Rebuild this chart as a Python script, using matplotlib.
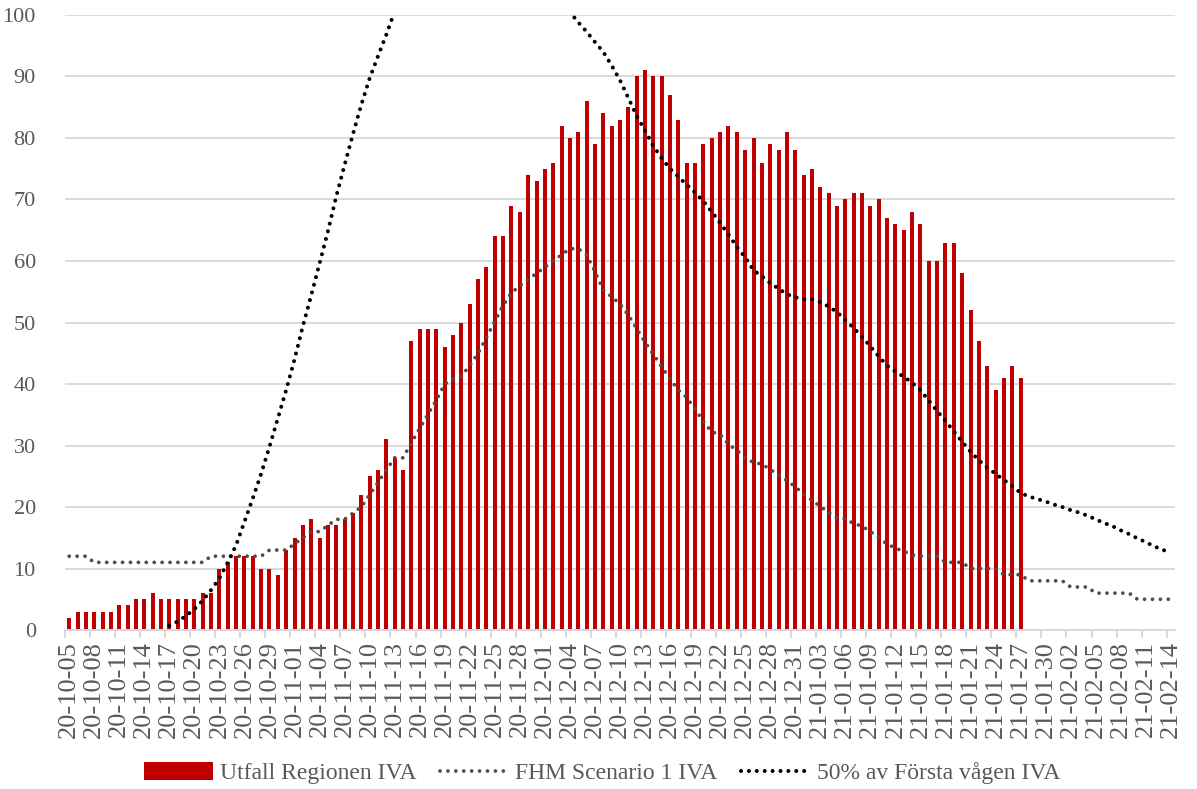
import matplotlib
matplotlib.use("Agg")
import matplotlib.pyplot as plt
import numpy as np
import pandas as pd

plt.rcParams["font.family"] = ["Liberation Serif", "DejaVu Serif"]

# dagar 20-10-05 .. 21-02-14
dates = pd.date_range("2020-10-05", "2021-02-14", freq="D")
date_labels = [d.strftime("%y-%m-%d") for d in dates]

# Utfall Regionen IVA (20-10-05 .. 21-01-27)
utfall = [
    2, 3, 3, 3, 3, 3, 4, 4, 5, 5, 6, 5, 5, 5, 5, 5, 6, 6,
    10, 11, 12, 12, 12, 10, 10, 9, 13, 15, 17, 18, 15, 17, 17, 18, 19, 22, 25, 26, 31, 28, 26,
    47, 49, 49, 49, 46, 48, 50, 53, 57, 59, 64, 64, 69, 68, 74, 73, 75, 76, 82, 80, 81, 86, 79,
    84, 82, 83, 85, 90, 91, 90, 90, 87, 83, 76, 76, 79, 80, 81, 82, 81,
    78, 80, 76, 79, 78, 81, 78, 74, 75, 72, 71, 69, 70, 71, 71, 69, 70, 67, 66,
    65, 68, 66, 60, 60, 63, 63, 58, 52, 47, 43, 39, 41, 43, 41,
]

# FHM Scenario 1 IVA
fhm = [
    12, 12, 12, 11, 11, 11, 11, 11, 11, 11,
    11, 11, 11, 11, 11, 11, 11, 12, 12, 12,
    12, 12, 12, 12, 13, 13, 13, 14, 15, 16,
    16, 17, 18, 18, 19, 20, 22, 24, 26, 28,
    28, 30.4, 32.8, 35.1, 37.4, 40, 40.8, 41.3, 43, 45,
    47.6, 50.2, 52.8, 54.8, 56, 57, 58, 59, 60, 61,
    62, 62, 61, 58.3, 55.3, 54.2, 53, 51.2, 49, 46.8,
    44.8, 42.8, 40.8, 39, 37.8, 35.9, 33.9, 32.2, 31.8, 30.2,
    29.2, 28.1, 27.2, 27, 26.1, 25.2, 24.3, 23.3, 22.1, 21.1,
    20.1, 19.1, 18.2, 18.1, 17.3, 16.9, 16, 15, 14, 13.3,
    12.8, 12.2, 12, 12, 12, 11, 11, 11, 10, 10,
    10, 10, 9, 9, 9, 8, 8, 8, 8, 8,
    7, 7, 7, 6, 6, 6, 6, 6, 5, 5,
    5, 5, 5,
]

# 50% av Första vågen IVA (värden över 100 syns inte i bilden, uppskattade)
forsta = [
    np.nan, np.nan, np.nan, np.nan, np.nan, np.nan, np.nan, np.nan, np.nan, np.nan,
    np.nan, np.nan, 0.7, 1.4, 2.3, 3.4, 4.8, 6.5, 8.4, 11.0,
    13.8, 17.6, 21.4, 25.4, 29.8, 34.4, 39.0, 44.0, 49.4, 54.4,
    59.6, 64.8, 70.5, 75.6, 80.6, 85.4, 89.7, 93.3, 96.8, 100.6,
    104, 107, 109.5, 111.5, 113, 114, 114.5, 114.5, 114, 113.5,
    113, 112, 111, 110, 109, 108, 107, 105.5, 104, 102.2,
    100.5, 98.8, 97.3, 95.6, 94.0, 91.8, 89.4, 86.5, 83.6, 81.2,
    78.7, 76.7, 75.0, 73.7, 72.4, 71.1, 69.7, 68.0, 66.2, 64.3,
    62.3, 60.6, 58.5, 57.5, 56.4, 55.5, 54.6, 54.1, 53.8, 53.8,
    53.3, 52.6, 51.7, 50.4, 49.1, 47.7, 46.1, 44.5, 43.0, 42.0,
    41.2, 40.2, 39.0, 37.3, 35.6, 34.0, 32.3, 30.6, 29.0, 27.6,
    26.4, 25.4, 24.4, 23.4, 22.3, 21.7, 21.3, 20.9, 20.4, 20.0,
    19.5, 19.1, 18.6, 18.0, 17.4, 16.9, 16.2, 15.6, 14.9, 14.3,
    13.6, 13.1, 12.4,
]

TXT = "#595959"
GRID = "#d9d9d9"

fig = plt.figure(figsize=(11.97, 7.89), dpi=100)
ax = fig.add_axes([0.0543, 0.2015, 0.9273, 0.7795])

x = np.arange(len(dates))
bars = ax.bar(x[:len(utfall)], utfall, width=0.48, color="#c00000",
              label="Utfall Regionen IVA", zorder=2)
l_fhm, = ax.plot(x, fhm, color="#4d4d4d", lw=2.7, linestyle=(0, (0.01, 2.1)),
                 dash_capstyle="round", label="FHM Scenario 1 IVA", zorder=3)
l_forsta, = ax.plot(x, forsta, color="black", lw=2.9, linestyle=(0, (0.01, 1.95)),
                    dash_capstyle="round", label="50% av Första vågen IVA", zorder=4)

ax.set_xlim(-0.5, len(dates) - 0.5)
ax.set_ylim(0, 100)
ax.set_yticks(np.arange(0, 101, 10))
ax.yaxis.grid(True, color=GRID, lw=1.4)
ax.set_axisbelow(True)

ax.set_xticks(x[::3])
ax.set_xticklabels(date_labels[::3], rotation=90)
ax.set_xticks(np.arange(-0.5, len(dates), 3), minor=True)
ax.tick_params(axis="x", which="major", length=0, pad=8, labelsize=19, labelcolor=TXT)
ax.tick_params(axis="x", which="minor", length=6, width=1.4, color=GRID)
ax.tick_params(axis="y", length=0, pad=21, labelsize=16, labelcolor=TXT)

for s in ["top", "right", "left"]:
    ax.spines[s].set_visible(False)
ax.spines["bottom"].set_color(GRID)
ax.spines["bottom"].set_linewidth(1.4)

fig.legend(handles=[bars, l_fhm, l_forsta], loc="center",
           bbox_to_anchor=(0.503, 0.02), ncol=3, frameon=False,
           fontsize=17, labelcolor=TXT, handlelength=2.9, handleheight=0.8,
           columnspacing=1.0, handletextpad=0.3)

fig.savefig("out.png", dpi=100)
